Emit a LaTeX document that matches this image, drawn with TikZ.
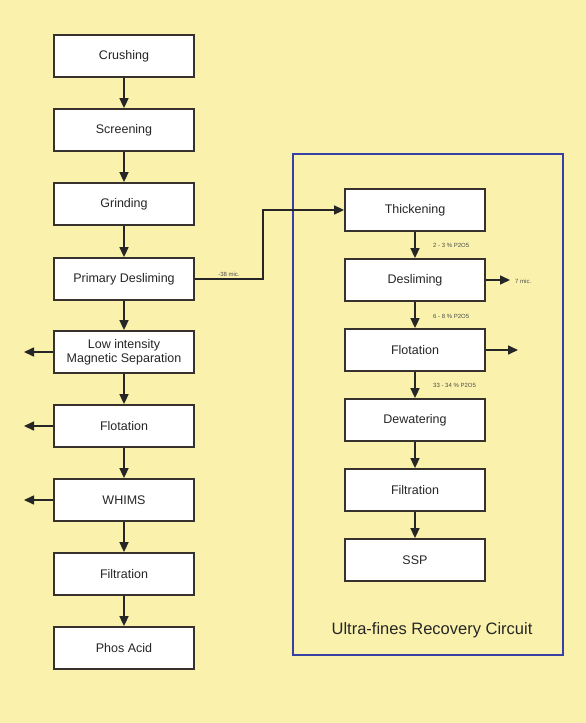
\documentclass[tikz,border=0pt]{standalone}
\usepackage{fontspec}
\setmainfont{Liberation Sans}
\usetikzlibrary{arrows.meta,calc}
\definecolor{bgyellow}{RGB}{250,242,172}
\definecolor{framegray}{RGB}{55,50,45}
\definecolor{circuitblue}{RGB}{55,65,165}
\tikzset{
  procbox/.style={draw=framegray,line width=1.8pt,fill=white,minimum width=140pt,minimum height=42pt,inner sep=0pt,align=center,font=\fontsize{12.5}{14}\selectfont,text=black!85},
  flow/.style={draw=black!85,line width=1.6pt,-{Triangle[length=10pt,width=9pt]}},
  tinylabel/.style={font=\fontsize{6}{7}\selectfont,text=black!70,inner sep=1pt}
}
\begin{document}
\begin{tikzpicture}[x=1pt,y=-1pt]
\fill[bgyellow] (0,0) rectangle (586,723);
\useasboundingbox (0,0) rectangle (586,723);
% left column
\node[procbox] (crush) at (124,56) {Crushing};
\node[procbox] (screen) at (124,130) {Screening};
\node[procbox] (grind) at (124,204) {Grinding};
\node[procbox] (pdes) at (124,279) {Primary Desliming};
\node[procbox] (lims) at (124,352) {Low intensity\\Magnetic Separation};
\node[procbox] (flotL) at (124,426) {Flotation};
\node[procbox] (whims) at (124,500) {WHIMS};
\node[procbox] (filtL) at (124,574) {Filtration};
\node[procbox] (phos) at (124,648) {Phos Acid};
\draw[flow] (crush) -- (screen);
\draw[flow] (screen) -- (grind);
\draw[flow] (grind) -- (pdes);
\draw[flow] (pdes) -- (lims);
\draw[flow] (lims) -- (flotL);
\draw[flow] (flotL) -- (whims);
\draw[flow] (whims) -- (filtL);
\draw[flow] (filtL) -- (phos);
\coordinate (limsout) at (24,352);
\coordinate (flotLout) at (24,426);
\coordinate (whimsout) at (24,500);
\draw[flow] (lims.west) -- (limsout);
\draw[flow] (flotL.west) -- (flotLout);
\draw[flow] (whims.west) -- (whimsout);
% circuit frame
\draw[circuitblue,line width=2.2pt] (293,154) rectangle (563,655);
\node[font=\fontsize{16.5}{18}\selectfont,text=black!85] (circ) at (432,630) {Ultra-fines Recovery Circuit};
% right column
\node[procbox] (thick) at (415,210) {Thickening};
\node[procbox] (des) at (415,280) {Desliming};
\node[procbox] (flotR) at (415,350) {Flotation};
\node[procbox] (dew) at (415,420) {Dewatering};
\node[procbox] (filtR) at (415,490) {Filtration};
\node[procbox] (ssp) at (415,560) {SSP};
\draw[flow] (thick) -- (des);
\draw[flow] (des) -- (flotR);
\draw[flow] (flotR) -- (dew);
\draw[flow] (dew) -- (filtR);
\draw[flow] (filtR) -- (ssp);
\coordinate (desout) at (510,280);
\coordinate (flotRout) at (518,350);
\draw[flow] (des.east) -- (desout);
\draw[flow] (flotR.east) -- (flotRout);
% link
\draw[flow] (pdes.east) -- (263,279) |- (thick.west);
% small labels
\node[tinylabel] (l38) at (229,274) {-38 mic.};
\node[tinylabel,anchor=west] (l7) at (514,281) {7 mic.};
\node[tinylabel,anchor=west] (p1) at (432,245) {2 - 3 \% P2O5};
\node[tinylabel,anchor=west] (p2) at (432,316) {6 - 8 \% P2O5};
\node[tinylabel,anchor=west] (p3) at (432,385) {33 - 34 \% P2O5};
\end{tikzpicture}
\end{document}
